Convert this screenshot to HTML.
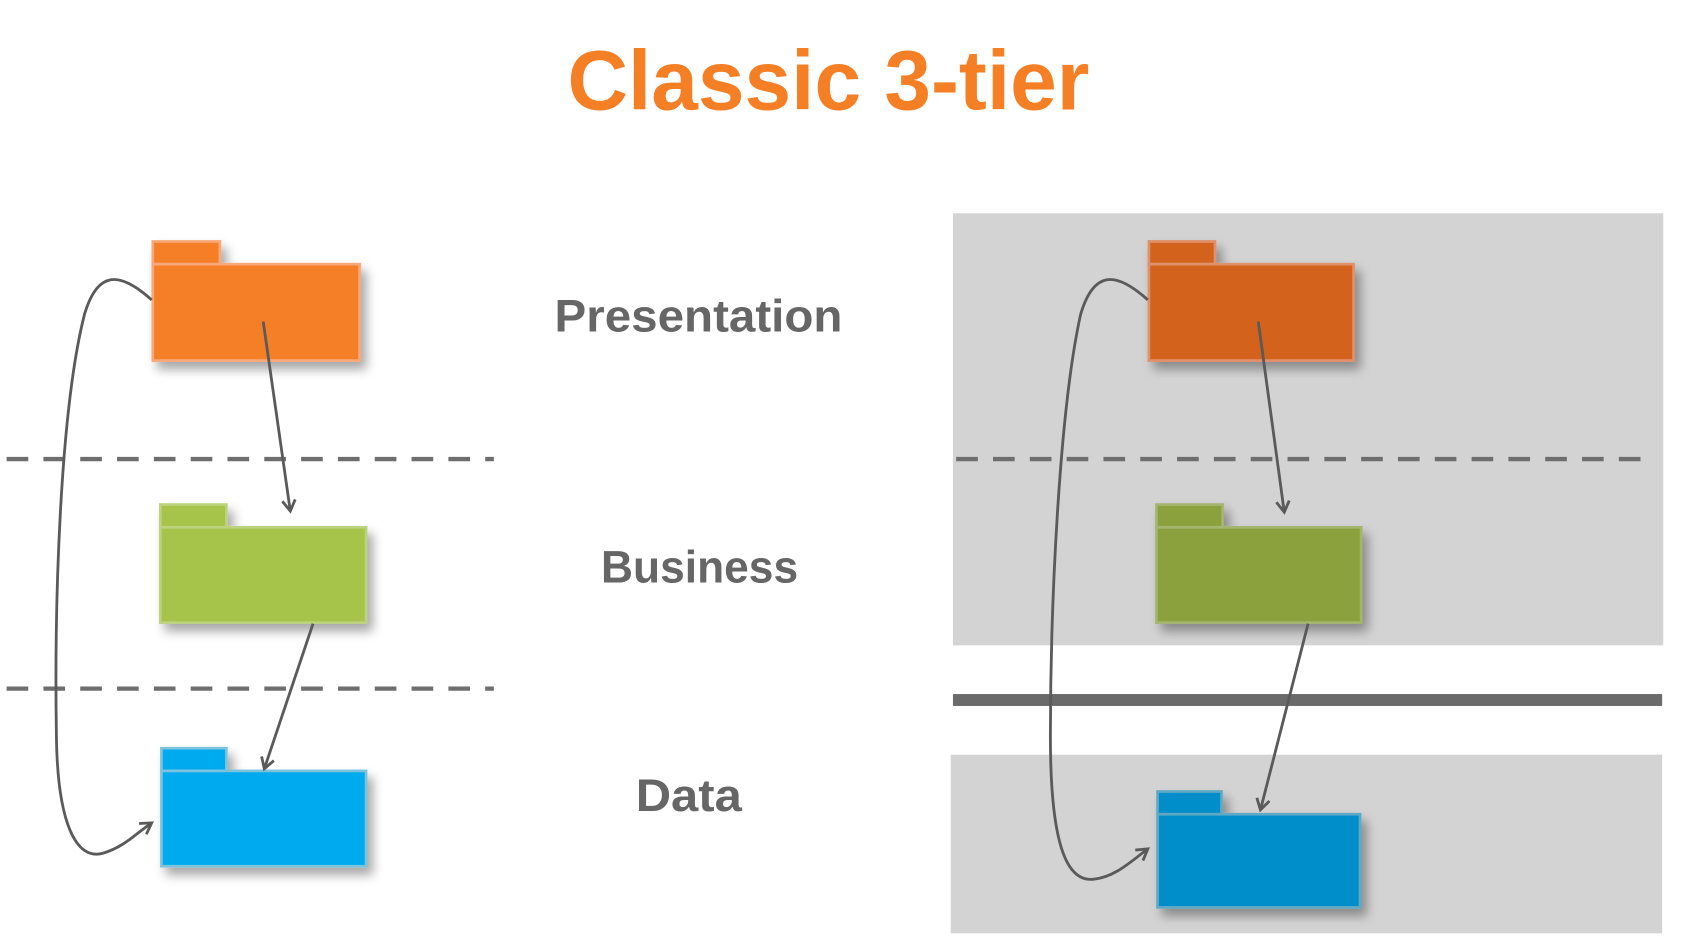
<!DOCTYPE html>
<html><head><meta charset="utf-8"><style>
html,body{margin:0;padding:0;background:#fff;width:1698px;height:942px;overflow:hidden}
svg{display:block}
</style></head><body>
<svg width="1698" height="942" viewBox="0 0 1568 870" xmlns="http://www.w3.org/2000/svg">
<defs>
<filter id="sh" x="-20%" y="-20%" width="150%" height="160%">
<feGaussianBlur in="SourceAlpha" stdDeviation="5"/>
<feOffset dx="5" dy="7" result="o"/>
<feComponentTransfer><feFuncA type="linear" slope="0.35"/></feComponentTransfer>
<feMerge><feMergeNode/><feMergeNode in="SourceGraphic"/></feMerge>
</filter>
<marker id="ah" markerWidth="14" markerHeight="14" refX="11" refY="7" orient="auto" markerUnits="userSpaceOnUse">
<path d="M1,1 L11,7 L1,13" fill="none" stroke="#5a5a5a" stroke-width="2.6"/>
</marker>
</defs>
<text x="765" y="101" text-anchor="middle" font-family="Liberation Sans, sans-serif" font-weight="bold" font-size="78" fill="#f57f25" textLength="482" lengthAdjust="spacingAndGlyphs">Classic 3-tier</text>

<!-- right panels -->
<rect x="880" y="197" width="656" height="399" fill="#d3d3d3"/>
<rect x="878" y="697" width="657" height="165" fill="#d3d3d3"/>
<rect x="880" y="641" width="655" height="11" fill="#6a6a6a"/>

<!-- dashed lines -->
<g stroke="#6e6e6e" stroke-width="4" stroke-dasharray="20,14">
<line x1="6" y1="424" x2="456" y2="424"/>
<line x1="6" y1="636" x2="456" y2="636"/>
<line x1="883" y1="424" x2="1528" y2="424"/>
</g>

<!-- labels -->
<g font-family="Liberation Sans, sans-serif" font-weight="bold" font-size="42" fill="#666" text-anchor="middle">
<text x="645" y="306" textLength="266" lengthAdjust="spacingAndGlyphs">Presentation</text>
<text x="646" y="538" textLength="182" lengthAdjust="spacingAndGlyphs">Business</text>
<text x="636" y="749" textLength="98" lengthAdjust="spacingAndGlyphs">Data</text>
</g>

<!-- left folders -->
<g filter="url(#sh)" stroke-width="2.5">
<g fill="#f57f25" stroke="#f8a878"><rect x="141" y="223" width="62" height="21"/><rect x="141" y="244" width="191" height="89"/></g>
<g fill="#a6c44a" stroke="#bcd27e"><rect x="148" y="466" width="61" height="21"/><rect x="148" y="487" width="190" height="88"/></g>
<g fill="#00aaee" stroke="#7bc3dd"><rect x="149" y="691" width="60" height="21"/><rect x="149" y="712" width="189" height="88"/></g>
</g>
<!-- right folders -->
<g filter="url(#sh)" stroke-width="2.5">
<g fill="#d3641a" stroke="#e0906a"><rect x="1061" y="223" width="61" height="21"/><rect x="1061" y="244" width="189" height="89"/></g>
<g fill="#8aa13c" stroke="#a3b56e"><rect x="1068" y="466" width="61" height="21"/><rect x="1068" y="487" width="189" height="88"/></g>
<g fill="#008ecb" stroke="#5ea8c6"><rect x="1069" y="731" width="59" height="21"/><rect x="1069" y="752" width="187" height="86"/></g>
</g>

<!-- arrows -->
<g fill="none" stroke="#5a5a5a" stroke-width="2.6" marker-end="url(#ah)">
<path d="M243,297 L268,472"/>
<path d="M289,576 L244,710"/>
<path d="M140,277 C110,250 90,250 78,290 C55,380 50,560 52,680 C53,760 70,795 95,788 C115,782 125,770 140,760"/>
<path d="M1162,297 L1186,473"/>
<path d="M1208,576 L1164,748"/>
<path d="M1060,277 C1030,250 1010,250 998,290 C978,380 970,560 970,680 C970,780 985,815 1010,812 C1030,810 1045,795 1060,784"/>
</g>
</svg>
</body></html>
